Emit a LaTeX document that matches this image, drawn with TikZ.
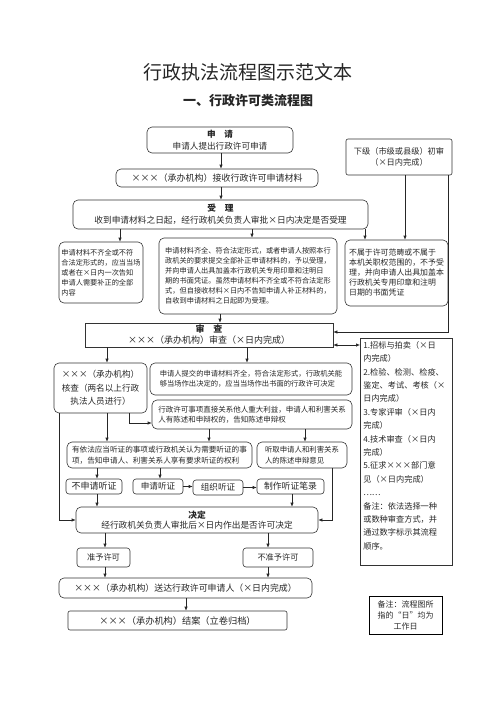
\documentclass[tikz,border=0pt]{standalone}
\usepackage{fontspec}
\setmainfont{Noto Sans CJK SC}
\usetikzlibrary{arrows.meta}
\tikzset{
	box/.style={draw=black!80, line width=0.6pt, rounded corners=5pt, align=center, inner sep=1pt, text=black!85, font=\fontsize{8.6}{12}\selectfont},
	sbox/.style={box, rounded corners=0pt},
	note/.style={box, align=left},
	sz/.style 2 args={minimum width=#1pt, minimum height=#2pt},
	arr/.style={draw=black!85, line width=0.6pt, -{Latex[length=4pt,width=3.4pt]}},
	darr/.style={draw=black!85, line width=0.6pt, {Latex[length=4pt,width=3.4pt]}-{Latex[length=4pt,width=3.4pt]}},
}

\begin{document}
\begin{tikzpicture}[x=1pt,y=-1pt]
			%%%%% START %%%%%
			\useasboundingbox (0,0) rectangle (496,702);
			
			\node[text=black!85, font=\fontsize{19}{19}\selectfont] (title) at (248,72) {行政执法流程图示范文本};
			\node[text=black!85, font=\fontsize{13}{13}\selectfont\bfseries] (subtitle) at (248,101) {一、行政许可类流程图};
			
			\node[box, sz={146}{26}] (shenqing) at (220,140) {{\bfseries 申\quad 请}\\申请人提出行政许可申请};
			\node[box, sz={202}{18}, font=\fontsize{9}{11}\selectfont] (jieshou) at (217,178) {×××（承办机构）接收行政许可申请材料};
			\node[box, sz={295}{29}, font=\fontsize{8.7}{12}\selectfont] (shouli) at (220.5,214.5) {{\bfseries 受\quad 理}\\收到申请材料之日起，经行政机关负责人审批×日内决定是否受理};
			\node[box, rounded corners=2pt, sz={106}{36}, font=\fontsize{8.2}{11}\selectfont] (xiaji) at (399,157) {下级（市级或县级）初审\\（×日内完成）};
			
			\node[note, sz={84}{61}, font=\fontsize{7.2}{10}\selectfont] (buqi) at (101,272.5) {申请材料不齐全或不符\\合法定形式的，应当当场\\或者在×日内一次告知\\申请人需要补正的全部\\内容};
			\node[note, sz={178}{76}, font=\fontsize{7.2}{10}\selectfont] (qiquan) at (248,276) {申请材料齐全、符合法定形式，或者申请人按照本行\\政机关的要求提交全部补正申请材料的，予以受理，\\并向申请人出具加盖本行政机关专用印章和注明日\\期的书面凭证。虽然申请材料不齐全或不符合法定形\\式，但自接收材料×日内不告知申请人补正材料的，\\自收到申请材料之日起即为受理。};
			\node[note, sz={103}{66}, font=\fontsize{7.9}{10}\selectfont] (bushu) at (396.5,273) {不属于许可范畴或不属于\\本机关职权范围的，不予受\\理，并向申请人出具加盖本\\行政机关专用印章和注明\\日期的书面凭证};
			
			\node[sbox, sz={248}{24}, font=\fontsize{9}{11}\selectfont] (shencha) at (209,335) {{\bfseries 审\quad 查}\\×××（承办机构）审查（×日内完成）};
			\node[sbox, inner sep=3pt, anchor=north west, font=\fontsize{8.2}{13.4}\selectfont] (fangshi) at (360,338) {\parbox[c][221pt][t]{86pt}{\raggedright
				1.招标与拍卖（×日\\内完成）\\2.检验、检测、检疫、\\鉴定、考试、考核（×\\日内完成）\\3.专家评审（×日内\\完成）\\4.技术审查（×日内\\完成）\\5.征求×××部门意\\见（×日内完成）\\……\\备注：依法选择一种\\或数种审查方式，并\\通过数字标示其流程\\顺序。}};
			
			\node[box, sz={93}{50}, font=\fontsize{8.6}{13.5}\selectfont] (hecha) at (100.5,388) {×××（承办机构）\\核查（两名以上行政\\执法人员进行）};
			\node[note, sz={202}{32}, font=\fontsize{7.3}{10}\selectfont] (dangchang) at (251,379) {申请人提交的申请材料齐全，符合法定形式，行政机关能\\够当场作出决定的，应当当场作出书面的行政许可决定};
			\node[note, sz={200}{29}, font=\fontsize{7.5}{10.5}\selectfont] (chenshu) at (252,414.5) {行政许可事项直接关系他人重大利益，申请人和利害关系\\人有陈述和申辩权的，告知陈述申辩权};
			
			\node[note, sz={185}{26}, font=\fontsize{7.6}{10.5}\selectfont] (tingzheng) at (159.5,455) {有依法应当听证的事项或行政机关认为需要听证的事\\项，告知申请人、利害关系人享有要求听证的权利};
			\node[note, sz={90}{26}, font=\fontsize{7.4}{10.5}\selectfont] (tingqu) at (302,455) {听取申请人和利害关系\\人的陈述申辩意见};
			
			\node[box, rounded corners=3pt, sz={56}{15}, font=\fontsize{9}{10}\selectfont] (bushenqing) at (94,486.5) {不申请听证};
			\node[box, rounded corners=3pt, sz={50}{15}] (shenqingtz) at (158,486.5) {申请听证};
			\node[box, rounded corners=3pt, sz={50}{15}] (zuzhi) at (218,487.5) {组织听证};
			\node[box, rounded corners=3pt, sz={67}{15}, font=\fontsize{8.8}{10}\selectfont] (bilu) at (290.5,486.5) {制作听证笔录};
			
			\node[box, sz={242}{26}, font=\fontsize{8.7}{10.5}\selectfont] (jueding) at (197,520) {{\bfseries 决定}\\经行政机关负责人审批后×日内作出是否许可决定};
			
			\node[box, rounded corners=3pt, sz={53}{19}, font=\fontsize{8.2}{10}\selectfont] (zhunyu) at (103.5,557.5) {准予许可};
			\node[box, rounded corners=3pt, sz={70}{19}, font=\fontsize{8.2}{10}\selectfont] (buzhunyu) at (278,557.5) {不准予许可};
			\node[box, sz={253}{20}, font=\fontsize{8.9}{10}\selectfont] (songda) at (185.5,588) {×××（承办机构）送达行政许可申请人（×日内完成）};
			\node[box, rounded corners=2pt, sz={219}{19}, font=\fontsize{9.2}{10}\selectfont] (jiean) at (177.5,620.5) {×××（承办机构）结案（立卷归档）};
			
			\node[sbox, draw=black, line width=1pt, sz={73}{38}, font=\fontsize{8}{11}\selectfont] (beizhu) at (405.5,615) {备注：流程图所\\指的“日”均为\\工作日};
			
			% connectors
			\draw[arr] (shenqing.south -| 221,0) -- (jieshou.north -| 221,0);
			\draw[arr] (jieshou.south -| 221,0) -- (shouli.north -| 221,0);
			\draw[arr] (shouli.south -| 120,0) -- (buqi.north -| 120,0);
			\draw[arr] (shouli.south -| 252,0) -- (qiquan.north -| 252,0);
			\draw[arr] (shouli.south -| 365,0) -- (bushu.north -| 365,0);
			\draw[arr] (xiaji.south -| 405,0) -- (bushu.north -| 405,0);
			\draw[arr] (xiaji.south -| 448,0) -- (448,332) -- (shencha.east |- 0,332);
			\draw[arr] (qiquan.south -| 220,0) -- (shencha.north -| 220,0);
			\draw[darr] (shencha.east |- 0,345) -- (fangshi.west |- 0,345);
			
			\draw[arr] (shencha.south -| 107,0) -- (hecha.north -| 107,0);
			\draw[arr] (shencha.south -| 247,0) -- (dangchang.north -| 247,0);
			\draw[arr] (hecha.south -| 129,0) -- (129,423) -- (chenshu.west |- 0,423);
			\draw[arr] (hecha.south -| 59,0) -- (59,520) -- (jueding.west);
			\draw[arr] (hecha.south -| 107,0) -- (tingzheng.north -| 107,0);
			\draw[arr] (chenshu.south -| 209,0) -- (tingzheng.north -| 209,0);
			\draw[arr] (chenshu.south -| 305,0) -- (tingqu.north -| 305,0);
			
			\draw[arr] (tingzheng.south -| 97,0) -- (bushenqing.north -| 97,0);
			\draw[arr] (tingzheng.south -| 160,0) -- (shenqingtz.north -| 160,0);
			\draw[arr] (shenqingtz.east) -- (zuzhi.west |- shenqingtz.east);
			\draw[arr] (zuzhi.east) -- (bilu.west |- zuzhi.east);
			\draw[arr] (bushenqing.south -| 97,0) -- (jueding.north -| 97,0);
			\draw[arr] (bilu.south -| 292,0) -- (jueding.north -| 292,0);
			\draw[arr] (tingqu.south -| 332,0) -- (332,520) -- (jueding.east);
			
			\draw[arr] (jueding.south -| 105,0) -- (zhunyu.north -| 105,0);
			\draw[arr] (jueding.south -| 268,0) -- (buzhunyu.north -| 268,0);
			\draw[arr] (zhunyu.south -| 105,0) -- (songda.north -| 105,0);
			\draw[arr] (buzhunyu.south -| 268,0) -- (songda.north -| 268,0);
			\draw[arr] (songda.south -| 186,0) -- (jiean.north -| 186,0);
			%%%%% END %%%%%
\end{tikzpicture}
\end{document}
